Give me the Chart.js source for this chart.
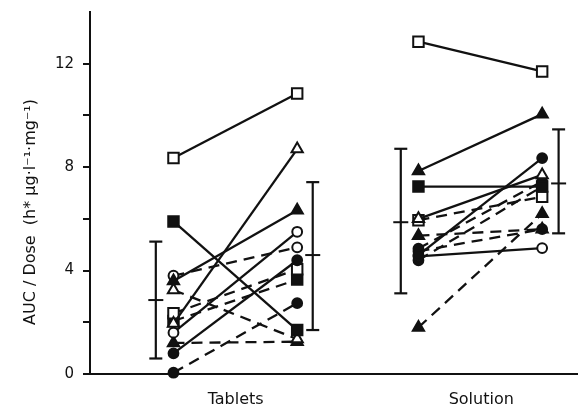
<!DOCTYPE html>
<html>
<head>
<meta charset="utf-8">
<script src="https://cdn.jsdelivr.net/npm/chart.js@4"></script>
<style>
  html, body { margin: 0; padding: 0; background: #ffffff; }
  #wrap { width: 587px; height: 414px; }
</style>
</head>
<body>
<div id="wrap"><canvas id="c" width="587" height="414"></canvas></div>
<script>
// ---- data -------------------------------------------------------------
const groupNames = ['Tablets', 'Solution'];
const yGridTicks = [0, 2, 4, 6, 8, 10, 12];
const yLabelledTicks = [0, 4, 8, 12];
const yTitle = 'AUC / Dose  (h* µg·l⁻¹·mg⁻¹)';

// per-subject values, first and second measurement in each group
const tabletsFirst  = [8.35, 5.9, 1.95, 3.6, 1.6, 0.8, 3.8, 3.25, 1.2, 0.05, 2.35, 2.05];
const tabletsSecond = [10.85, 1.7, 8.7, 6.33, 5.5, 4.4, 4.9, 1.35, 1.25, 2.74, 4.05, 3.65];
const tabletsLine   = ['solid','solid','solid','solid','solid','solid','dashed','dashed','dashed','dashed','dashed','dashed'];
const tabletsSymbol = ['os','fs','ot','ft','oc','fc','oc','ot','ft','fc','os','fs'];

const solutionFirst  = [12.85, 7.85, 7.25, 4.6, 6.0, 4.55, 1.8, 5.95, 5.35, 4.75, 4.4, 4.85];
const solutionSecond = [11.7, 10.05, 7.25, 8.35, 7.7, 4.87, 6.2, 6.85, 5.6, 5.6, 7.25, 7.45];
const solutionLine   = ['solid','solid','solid','solid','solid','solid','dashed','dashed','dashed','dashed','dashed','dashed'];
const solutionSymbol = ['os','ft','fs','fc','ot','oc','ft','os','ft','fc','fc','fc'];

// mean and spread bars: tablets first, tablets second, solution first, solution second
const barMean = [2.86, 4.6, 5.87, 7.37];
const barLow  = [0.6, 1.7, 3.12, 5.44];
const barHigh = [5.12, 7.42, 8.71, 9.46];

// ---- layout constants (x positions on the horizontal scale) -------------
const X_TAB_1 = 1.37, X_TAB_2 = 3.40, X_SOL_1 = 5.39, X_SOL_2 = 7.42;
const X_BARS = [1.08, 3.655, 5.10, 7.69];
const X_GROUP_LABELS = [2.39, 6.42];

const INK = '#111111';
const FONT = '"DejaVu Sans", "Liberation Sans", sans-serif';

function symbolStyle(code) {
  const shape = code[1] === 's' ? 'rect' : code[1] === 't' ? 'triangle' : 'circle';
  const radius = shape === 'rect' ? 7.4 : shape === 'triangle' ? 6.5 : 4.9;
  return { shape, radius, fill: code[0] === 'f' ? INK : '#ffffff' };
}

function subjectDatasets(first, second, lines, symbols, x1, x2) {
  return first.map((v, i) => {
    const s = symbolStyle(symbols[i]);
    return {
      data: [{ x: x1, y: v }, { x: x2, y: second[i] }],
      borderColor: INK,
      borderWidth: 2.3,
      borderDash: lines[i] === 'dashed' ? [11, 7] : [],
      pointStyle: s.shape,
      pointRadius: s.radius,
      pointBackgroundColor: s.fill,
      pointBorderColor: INK,
      pointBorderWidth: 2,
      tension: 0,
      clip: false
    };
  });
}

function barDatasets() {
  const sets = [];
  barMean.forEach((m, i) => {
    sets.push({
      data: [{ x: X_BARS[i], y: barLow[i] }, { x: X_BARS[i], y: barHigh[i] }],
      borderColor: INK, borderWidth: 2.2,
      pointStyle: 'line', pointRadius: 6.5,
      pointBorderColor: INK, pointBorderWidth: 2.2, clip: false
    });
    sets.push({
      data: [{ x: X_BARS[i], y: m }],
      showLine: false,
      pointStyle: 'line', pointRadius: 7.5,
      pointBorderColor: INK, pointBorderWidth: 2, clip: false
    });
  });
  return sets;
}

const datasets = [
  ...subjectDatasets(tabletsFirst, tabletsSecond, tabletsLine, tabletsSymbol, X_TAB_1, X_TAB_2),
  ...subjectDatasets(solutionFirst, solutionSecond, solutionLine, solutionSymbol, X_SOL_1, X_SOL_2),
  ...barDatasets()
];

// rotated axis title, placed beside the vertical axis
const axisTitle = {
  id: 'axisTitle',
  afterDraw(chart) {
    const ctx = chart.ctx;
    ctx.save();
    ctx.translate(31, 212);
    ctx.rotate(-Math.PI / 2);
    ctx.fillStyle = INK;
    ctx.font = '16px ' + FONT;
    ctx.textAlign = 'center';
    ctx.textBaseline = 'middle';
    ctx.fillText(yTitle, 0, 0);
    ctx.restore();
  }
};

new Chart(document.getElementById('c'), {
  type: 'line',
  data: { datasets },
  plugins: [axisTitle],
  options: {
    responsive: false,
    animation: false,
    devicePixelRatio: 1,
    layout: { padding: { top: 12, right: 0, left: 0, bottom: 0 } },
    plugins: { legend: { display: false }, tooltip: { enabled: false } },
    scales: {
      x: {
        type: 'linear', min: 0, max: 8,
        afterBuildTicks: s => { s.ticks = X_GROUP_LABELS.map(v => ({ value: v })); },
        afterFit: s => { s.height = 40; s.paddingLeft = 0; s.paddingRight = 0; },
        ticks: {
          callback: (v, i) => groupNames[i],
          autoSkip: false, maxRotation: 0, padding: 16,
          color: INK, font: { family: FONT, size: 16 }
        },
        grid: { display: false, drawTicks: false },
        border: { display: true, color: INK, width: 2 }
      },
      y: {
        min: 0, max: 14,
        afterBuildTicks: s => { s.ticks = yGridTicks.map(v => ({ value: v })); },
        afterFit: s => { s.width = 90; s.paddingTop = 0; s.paddingBottom = 0; },
        ticks: {
          callback: v => yLabelledTicks.includes(v) ? String(v) : '',
          padding: 9, color: INK, font: { family: FONT, size: 15 }
        },
        grid: { drawOnChartArea: false, drawTicks: true, tickLength: 7, color: INK, lineWidth: 2 },
        border: { display: true, color: INK, width: 2 }
      }
    }
  }
});
</script>
</body>
</html>
